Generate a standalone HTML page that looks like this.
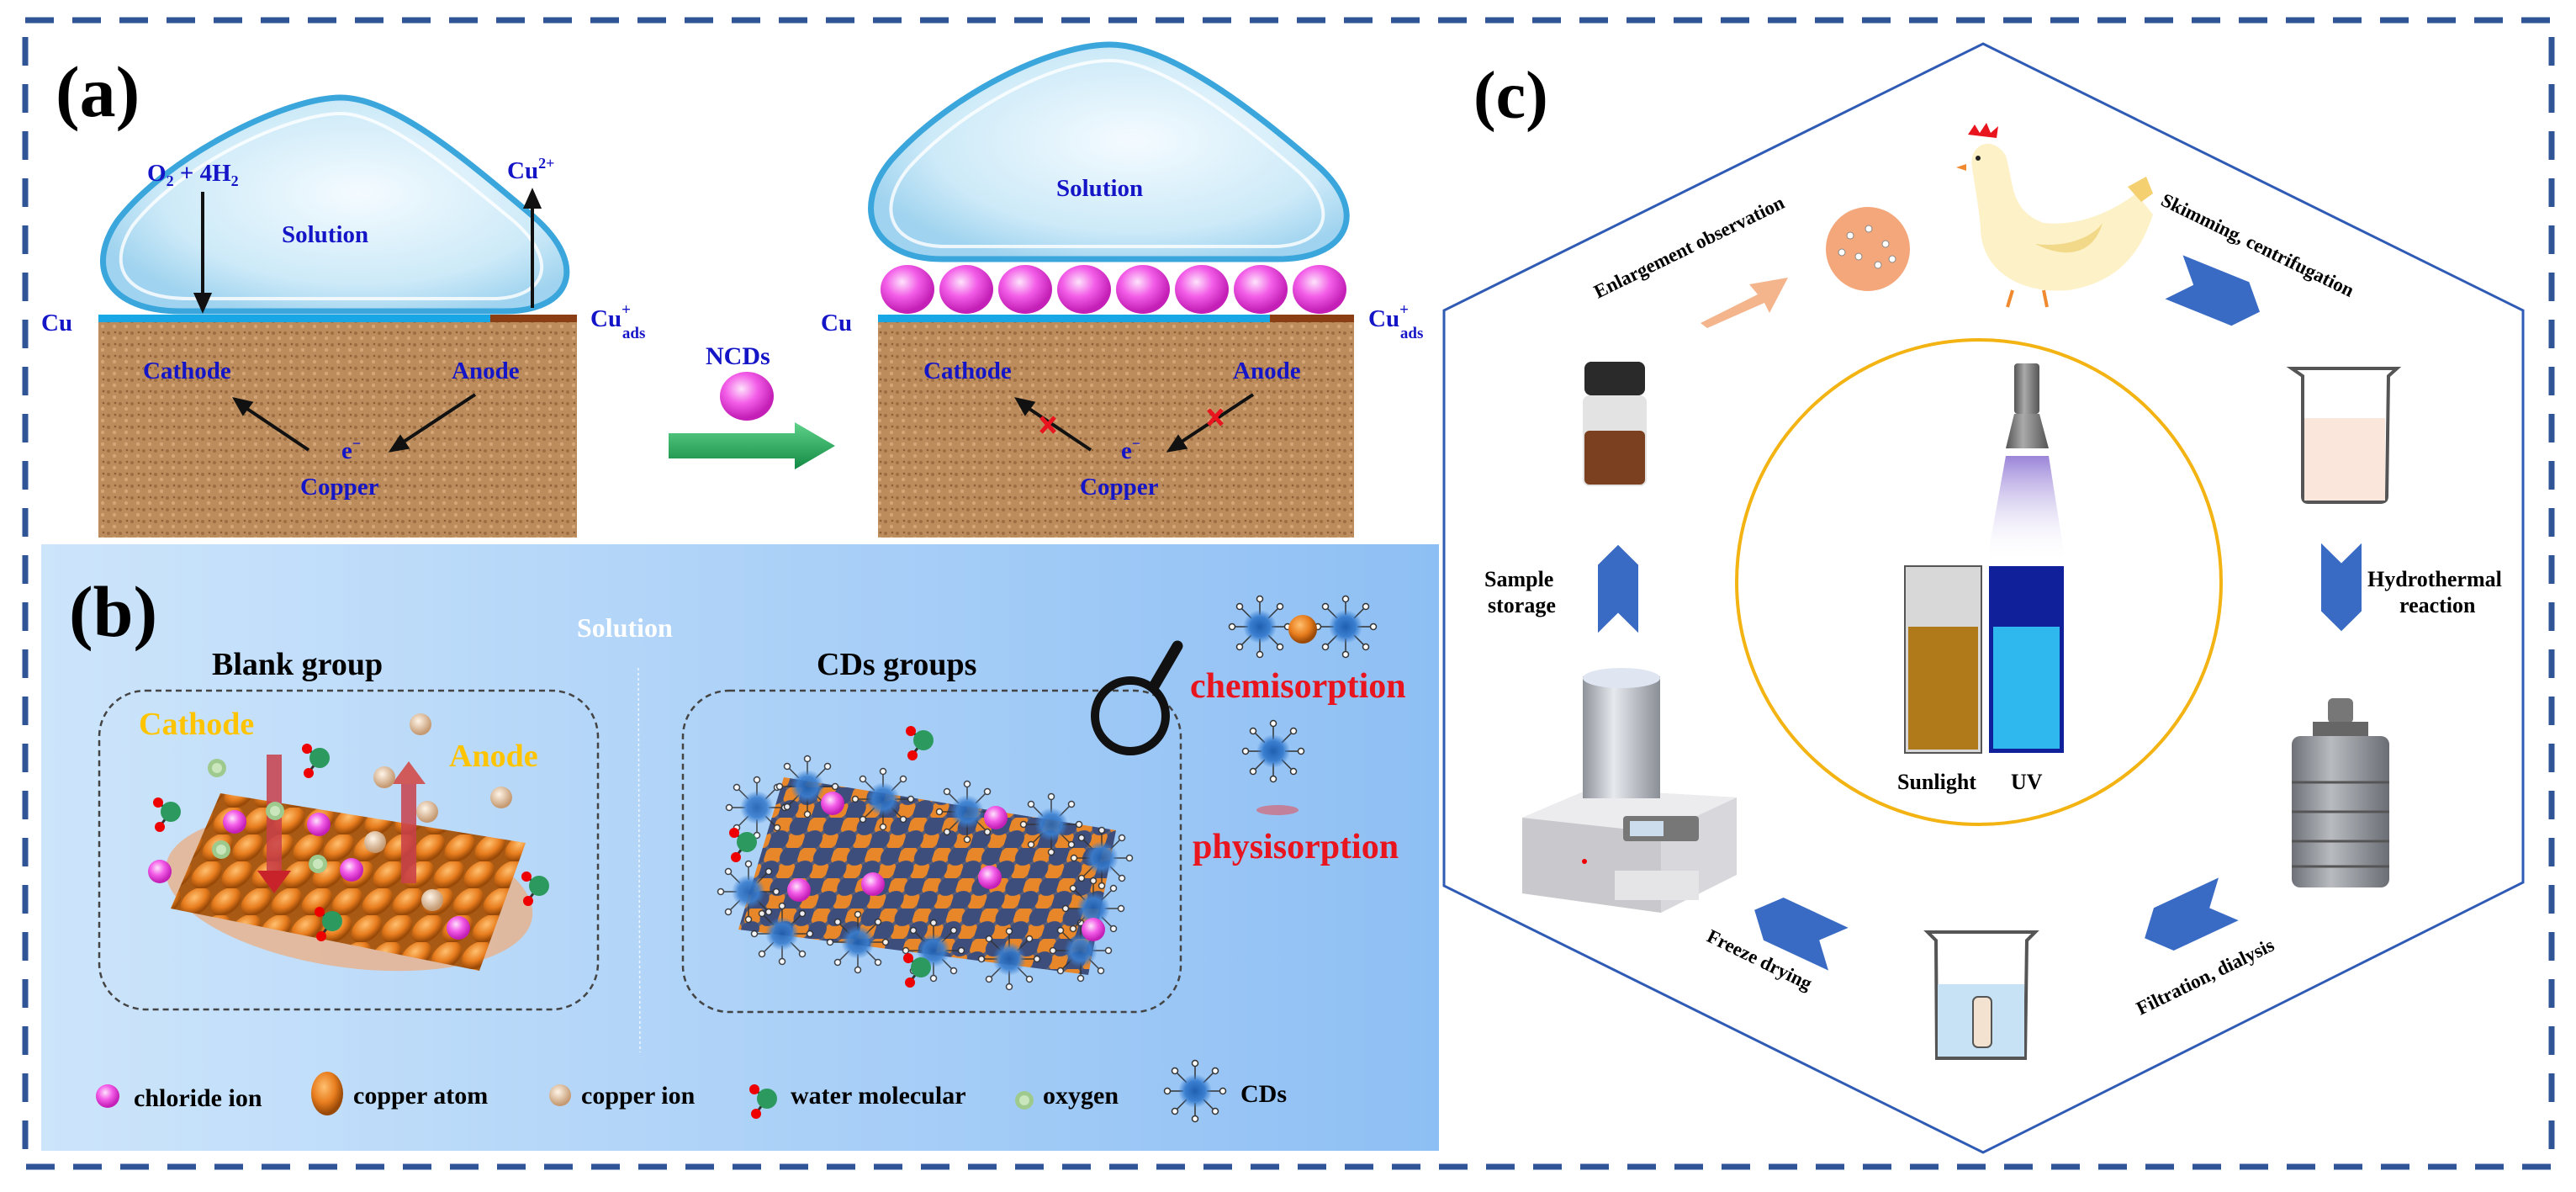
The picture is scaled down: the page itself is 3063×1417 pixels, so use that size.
<!DOCTYPE html>
<html><head><meta charset="utf-8"><style>
html,body{margin:0;padding:0;background:#fff}
svg{display:block}
text{font-family:"Liberation Serif",serif;font-weight:bold}
</style></head><body>
<svg width="3063" height="1417" viewBox="0 0 3063 1417" xmlns="http://www.w3.org/2000/svg">
<defs>
<linearGradient id="bg" x1="0" x2="1" y1="0" y2="0"><stop offset="0" stop-color="#cde5fb"/><stop offset="1" stop-color="#8ebff4"/></linearGradient>
<radialGradient id="drop" cx="0.55" cy="0.45" r="0.6"><stop offset="0" stop-color="#f4fbff"/><stop offset="0.7" stop-color="#cdeaf8"/><stop offset="1" stop-color="#9fd3ef"/></radialGradient>
<radialGradient id="pink" cx="0.4" cy="0.35" r="0.6"><stop offset="0" stop-color="#fde3fb"/><stop offset="0.5" stop-color="#f35ee8"/><stop offset="1" stop-color="#c41fb6"/></radialGradient>
<radialGradient id="cu" cx="0.4" cy="0.35" r="0.6"><stop offset="0" stop-color="#ffc070"/><stop offset="0.6" stop-color="#e87d1e"/><stop offset="1" stop-color="#9a4a08"/></radialGradient>
<radialGradient id="cuion" cx="0.4" cy="0.35" r="0.6"><stop offset="0" stop-color="#fff5e8"/><stop offset="1" stop-color="#c59a72"/></radialGradient>
<radialGradient id="cdb" cx="0.5" cy="0.5" r="0.5"><stop offset="0" stop-color="#1f5fb0"/><stop offset="0.6" stop-color="#3b7fd0"/><stop offset="1" stop-color="#3b7fd0" stop-opacity="0"/></radialGradient>
<pattern id="soil" width="14" height="14" patternUnits="userSpaceOnUse"><rect width="14" height="14" fill="#bc8c5c"/><circle cx="3" cy="4" r="2" fill="#9e6e42"/><circle cx="10" cy="10" r="2.2" fill="#d4a577"/><circle cx="11" cy="3" r="1.3" fill="#8d5f36"/></pattern>
<pattern id="cuPat" width="36" height="32" patternUnits="userSpaceOnUse" patternTransform="skewX(-22)"><rect width="36" height="32" fill="#a85a14"/><circle cx="18" cy="16" r="17" fill="url(#cu)"/></pattern>
<pattern id="cdPat" width="40" height="36" patternUnits="userSpaceOnUse" patternTransform="skewX(-18)"><rect width="40" height="36" fill="#5a5f78"/><circle cx="10" cy="9" r="11" fill="#e8872a"/><circle cx="30" cy="27" r="11" fill="#e8872a"/><circle cx="30" cy="9" r="12" fill="#3d4e7c"/><circle cx="10" cy="27" r="12" fill="#3d4e7c"/></pattern>
<linearGradient id="garrow" x1="0" y1="0" x2="0" y2="1"><stop offset="0" stop-color="#5fd28a"/><stop offset="1" stop-color="#138a44"/></linearGradient>
<linearGradient id="cone" x1="0" y1="0" x2="0" y2="1"><stop offset="0" stop-color="#9a84d8"/><stop offset="1" stop-color="#fff" stop-opacity="0"/></linearGradient>
<linearGradient id="steel" x1="0" x2="1"><stop offset="0" stop-color="#8e9299"/><stop offset="0.4" stop-color="#e6e9ee"/><stop offset="1" stop-color="#8a8e95"/></linearGradient>
<linearGradient id="steel2" x1="0" x2="1"><stop offset="0" stop-color="#6e7278"/><stop offset="0.4" stop-color="#b8bbc0"/><stop offset="1" stop-color="#6a6e74"/></linearGradient>
<linearGradient id="dark" x1="0" x2="1"><stop offset="0" stop-color="#555"/><stop offset="0.4" stop-color="#aaa"/><stop offset="1" stop-color="#555"/></linearGradient>
<g id="cd"><g stroke="#333" stroke-width="1.5" fill="none"><path d="M0-14V-30M10-10L22-22M14 0H30M10 10L22 22M0 14V30M-10 10L-22 22M-14 0H-30M-10-10L-22-22"/></g><g fill="#fff" stroke="#333" stroke-width="1.5"><circle cx="0" cy="-33" r="3.5"/><circle cx="24" cy="-24" r="3.5"/><circle cx="33" cy="0" r="3.5"/><circle cx="24" cy="24" r="3.5"/><circle cx="0" cy="33" r="3.5"/><circle cx="-24" cy="24" r="3.5"/><circle cx="-33" cy="0" r="3.5"/><circle cx="-24" cy="-24" r="3.5"/></g><circle r="20" fill="url(#cdb)"/></g>
<g id="cl"><circle r="14" fill="url(#pink)"/></g>
<g id="ci"><circle r="13" fill="url(#cuion)"/></g>
<g id="ox"><circle r="11" fill="#9fca8e"/><circle r="6" fill="#c9e6bd"/></g>
<g id="wm"><line x1="0" y1="0" x2="-14" y2="-10" stroke="#333" stroke-width="3"/><line x1="0" y1="0" x2="-12" y2="16" stroke="#333" stroke-width="3"/><circle r="12" fill="#2c9a5e"/><circle cx="-15" cy="-11" r="6" fill="#e00"/><circle cx="-13" cy="18" r="6" fill="#e00"/></g>
<g id="chev"><path d="M-55-40 L30-40 L55 0 L30 40 L-55 40 L-30 0Z" fill="#3a6bc4"/></g>
</defs>

<rect x="30" y="24" width="3004" height="1363" fill="none" stroke="#2f5597" stroke-width="7" stroke-dasharray="34 22"/>

<!-- (a) -->
<text x="66" y="138" font-size="86">(a)</text>
<path d="M405 116 C470 116 560 195 635 258 C700 315 680 370 600 370 L215 370 C130 370 100 320 140 262 C200 185 340 116 405 116Z" fill="url(#drop)" stroke="#3aa6dc" stroke-width="7"/>
<path d="M405 135 C460 135 540 205 610 262 C665 310 650 352 590 355 L225 355 C150 355 125 318 158 268 C215 195 345 135 405 135Z" fill="none" stroke="#fff" stroke-width="4" opacity="0.8"/>
<rect x="117" y="381" width="569" height="258" fill="url(#soil)"/>
<rect x="117" y="374" width="466" height="9" fill="#19a6e4"/>
<rect x="583" y="374" width="103" height="9" fill="#8b3e13"/>
<g fill="#1515c8" font-size="29">
<text x="49" y="393">Cu</text>
<text x="702" y="388">Cu<tspan font-size="19" dy="-14">+</tspan><tspan font-size="19" dy="28" dx="-10">ads</tspan></text>
<text x="175" y="215">O<tspan font-size="18" dy="6">2</tspan><tspan dy="-6"> + 4H</tspan><tspan font-size="18" dy="6">2</tspan></text>
<text x="603" y="212">Cu<tspan font-size="18" dy="-12">2+</tspan></text>
<text x="335" y="288">Solution</text>
<text x="170" y="450">Cathode</text>
<text x="537" y="450">Anode</text>
<text x="406" y="545">e<tspan font-size="18" dy="-12">−</tspan></text>
<text x="357" y="588">Copper</text>
</g>
<g stroke="#111" stroke-width="4" fill="#111">
<line x1="241" y1="228" x2="241" y2="352"/><path d="M233 350 L241 368 L249 350Z"/>
<line x1="633" y1="366" x2="633" y2="244"/><path d="M625 246 L633 228 L641 246Z"/>
<line x1="367" y1="535" x2="288" y2="482"/><path d="M280 475 L298 479 L289 491Z"/>
<line x1="565" y1="469" x2="474" y2="529"/><path d="M466 535 L476 520 L484 532Z"/>
</g>
<text x="839" y="433" fill="#1515c8" font-size="30">NCDs</text>
<ellipse cx="888" cy="471" rx="32" ry="29" fill="url(#pink)"/>
<path d="M795 515 L945 515 L945 502 L993 530 L945 558 L945 545 L795 545Z" fill="url(#garrow)"/>
<path d="M1320 53 C1390 53 1490 130 1568 198 C1630 255 1600 308 1520 308 L1120 308 C1040 308 1010 250 1060 190 C1130 112 1250 53 1320 53Z" fill="url(#drop)" stroke="#3aa6dc" stroke-width="7"/>
<path d="M1320 72 C1380 72 1470 140 1545 205 C1595 252 1575 292 1515 293 L1125 293 C1060 293 1040 250 1080 200 C1145 128 1255 72 1320 72Z" fill="none" stroke="#fff" stroke-width="4" opacity="0.8"/>
<rect x="1044" y="381" width="566" height="258" fill="url(#soil)"/>
<rect x="1044" y="374" width="466" height="9" fill="#19a6e4"/>
<rect x="1510" y="374" width="100" height="9" fill="#8b3e13"/>
<g fill="url(#pink)">
<ellipse cx="1079" cy="344" rx="32" ry="29"/><ellipse cx="1149" cy="344" rx="32" ry="29"/><ellipse cx="1219" cy="344" rx="32" ry="29"/><ellipse cx="1289" cy="344" rx="32" ry="29"/><ellipse cx="1359" cy="344" rx="32" ry="29"/><ellipse cx="1429" cy="344" rx="32" ry="29"/><ellipse cx="1499" cy="344" rx="32" ry="29"/><ellipse cx="1569" cy="344" rx="32" ry="29"/>
</g>
<g fill="#1515c8" font-size="29">
<text x="976" y="393">Cu</text>
<text x="1627" y="388">Cu<tspan font-size="19" dy="-14">+</tspan><tspan font-size="19" dy="28" dx="-10">ads</tspan></text>
<text x="1256" y="233">Solution</text>
<text x="1098" y="450">Cathode</text>
<text x="1466" y="450">Anode</text>
<text x="1333" y="545">e<tspan font-size="18" dy="-12">−</tspan></text>
<text x="1284" y="588">Copper</text>
</g>
<g stroke="#111" stroke-width="4" fill="#111">
<line x1="1297" y1="535" x2="1218" y2="482"/><path d="M1210 475 L1228 479 L1219 491Z"/>
<line x1="1490" y1="469" x2="1399" y2="529"/><path d="M1391 535 L1401 520 L1409 532Z"/>
</g>
<g stroke="#e8141e" stroke-width="5"><path d="M1238 496 L1254 514 M1254 496 L1238 514"/><path d="M1437 487 L1453 505 M1453 487 L1437 505"/></g>

<!-- (b) -->
<rect x="49" y="647" width="1662" height="721" fill="url(#bg)"/>
<text x="82" y="756" font-size="86">(b)</text>
<text x="686" y="757" fill="#fff" font-size="32">Solution</text>
<text x="252" y="802" font-size="38">Blank group</text>
<text x="971" y="802" font-size="38">CDs groups</text>
<line x1="759" y1="794" x2="761" y2="1251" stroke="#fff" stroke-width="1.5" stroke-dasharray="3 3" opacity="0.8"/>
<rect x="118" y="821" width="593" height="379" rx="55" fill="none" stroke="#444" stroke-width="2.5" stroke-dasharray="7 5"/>
<rect x="812" y="821" width="592" height="382" rx="55" fill="none" stroke="#444" stroke-width="2.5" stroke-dasharray="7 5"/>
<ellipse cx="415" cy="1060" rx="220" ry="90" fill="#e8b08a" opacity="0.8" transform="rotate(8 415 1060)"/>
<polygon points="203,1080 262,943 625,1002 570,1154" fill="url(#cuPat)"/>
<rect x="317" y="897" width="18" height="140" fill="#c8404a" opacity="0.85"/><path d="M306 1035 L326 1062 L346 1035Z" fill="#c8232a"/>
<rect x="477" y="930" width="18" height="120" fill="#c8404a" opacity="0.85"/><path d="M466 932 L486 905 L506 932Z" fill="#d05a5a"/>
<text x="165" y="873" fill="#ffc400" font-size="38">Cathode</text>
<text x="534" y="911" fill="#ffc400" font-size="38">Anode</text>
<use href="#cl" x="279" y="977"/><use href="#cl" x="379" y="980"/><use href="#cl" x="418" y="1034"/><use href="#cl" x="190" y="1036"/><use href="#cl" x="545" y="1103"/>
<use href="#ox" x="258" y="913"/><use href="#ox" x="327" y="964"/><use href="#ox" x="263" y="1010"/><use href="#ox" x="378" y="1027"/>
<use href="#ci" x="500" y="861"/><use href="#ci" x="457" y="924"/><use href="#ci" x="596" y="948"/><use href="#ci" x="508" y="965"/><use href="#ci" x="446" y="1001"/><use href="#ci" x="514" y="1070"/>
<use href="#wm" x="380" y="901"/><use href="#wm" x="203" y="965"/><use href="#wm" x="641" y="1053"/><use href="#wm" x="395" y="1095"/>
<polygon points="878,1105 932,924 1327,987 1294,1159" fill="url(#cdPat)"/>
<g opacity="0.9"><use href="#cd" x="900" y="960"/><use href="#cd" x="960" y="935"/><use href="#cd" x="1050" y="950"/><use href="#cd" x="1150" y="965"/><use href="#cd" x="1250" y="980"/><use href="#cd" x="1310" y="1020"/><use href="#cd" x="890" y="1060"/><use href="#cd" x="930" y="1110"/><use href="#cd" x="1020" y="1120"/><use href="#cd" x="1110" y="1130"/><use href="#cd" x="1200" y="1140"/><use href="#cd" x="1285" y="1130"/><use href="#cd" x="1300" y="1080"/></g>
<use href="#cl" x="990" y="955"/><use href="#cl" x="1184" y="972"/><use href="#cl" x="1177" y="1043"/><use href="#cl" x="1038" y="1051"/><use href="#cl" x="950" y="1058"/><use href="#cl" x="1300" y="1105"/>
<use href="#wm" x="1098" y="880"/><use href="#wm" x="888" y="1001"/><use href="#wm" x="1095" y="1150"/>
<circle cx="1344" cy="851" r="42" fill="none" stroke="#111" stroke-width="10"/>
<line x1="1372" y1="816" x2="1400" y2="768" stroke="#111" stroke-width="13" stroke-linecap="round"/>
<use href="#cd" x="1498" y="745"/><use href="#cd" x="1600" y="745"/><circle cx="1549" cy="748" r="17" fill="url(#cu)"/>
<text x="1415" y="829" fill="#e8141e" font-size="42">chemisorption</text>
<use href="#cd" x="1514" y="893"/>
<ellipse cx="1519" cy="963" rx="25" ry="6" fill="#f04040" opacity="0.5"/>
<text x="1418" y="1020" fill="#e8141e" font-size="42">physisorption</text>
<use href="#cl" x="128" y="1303"/><text x="159" y="1315" font-size="30">chloride ion</text>
<ellipse cx="389" cy="1300" rx="19" ry="26" fill="url(#cu)"/><text x="420" y="1312" font-size="30">copper atom</text>
<use href="#ci" x="666" y="1302"/><text x="691" y="1312" font-size="30">copper ion</text>
<use href="#wm" x="912" y="1306"/><text x="940" y="1312" font-size="30">water molecular</text>
<use href="#ox" x="1218" y="1308"/><text x="1240" y="1312" font-size="30">oxygen</text>
<use href="#cd" x="1421" y="1297"/><text x="1475" y="1310" font-size="30">CDs</text>

<!-- (c) -->
<polygon points="2358,52 3000,369 3000,1049 2358,1370 1717,1053 1717,369" fill="none" stroke="#2f5bb5" stroke-width="3"/>
<text x="1752" y="140" font-size="80">(c)</text>
<circle cx="2353" cy="692" r="288" fill="none" stroke="#f3b312" stroke-width="4"/>
<rect x="2395" y="432" width="30" height="60" rx="4" fill="url(#dark)"/>
<path d="M2395 492 L2425 492 L2436 533 L2385 533Z" fill="url(#dark)"/>
<path d="M2385 542 L2436 542 L2456 669 L2362 669Z" fill="url(#cone)"/>
<rect x="2265" y="673" width="91" height="222" fill="#d8d8d8" stroke="#555" stroke-width="2"/>
<rect x="2269" y="745" width="83" height="146" fill="#b07a1a"/>
<rect x="2365" y="673" width="89" height="222" fill="#10209a"/>
<rect x="2370" y="745" width="79" height="145" fill="#2eb8ee"/>
<text x="2256" y="938" font-size="26">Sunlight</text>
<text x="2391" y="938" font-size="26">UV</text>
<g>
<path d="M2345 200 C2340 170 2370 160 2385 185 C2395 220 2390 250 2430 265 C2480 270 2520 245 2540 230 L2560 255 C2545 300 2520 335 2460 345 C2400 350 2355 320 2355 270 C2352 240 2348 220 2345 200Z" fill="#fdf1c8"/>
<path d="M2420 290 C2460 295 2490 280 2500 265 C2490 300 2460 310 2420 290Z" fill="#f2d98a"/>
<path d="M2340 160 l8-12 6 10 8-12 5 12 9-8 -2 14Z" fill="#e8141e"/>
<path d="M2338 195 l-12 4 12 4Z" fill="#f08a30"/>
<path d="M2530 222 l22 -12 8 20 -14 10Z" fill="#f4d070"/>
<path d="M2393 345 l-6 20 M2430 345 l4 20" stroke="#f08a30" stroke-width="4"/>
<circle cx="2352" cy="188" r="3" fill="#222"/>
</g>
<circle cx="2221" cy="296" r="50" fill="#f4a77a"/>
<g fill="#fff" stroke="#888" stroke-width="1"><circle cx="2200" cy="280" r="4"/><circle cx="2222" cy="272" r="4"/><circle cx="2242" cy="290" r="4"/><circle cx="2210" cy="305" r="4"/><circle cx="2233" cy="315" r="4"/><circle cx="2190" cy="300" r="4"/><circle cx="2250" cy="308" r="4"/></g>
<path d="M2022 384 L2090 350 L2080 338 L2126 330 L2104 372 L2098 360 L2030 390Z" fill="#f4b48c"/>
<text font-size="23" transform="translate(1900 355) rotate(-26)">Enlargement observation</text>
<text font-size="23" transform="translate(2568 243) rotate(26)">Skimming, centrifugation</text>
<use href="#chev" transform="translate(2636 350) rotate(22) scale(1 0.7)"/>
<path d="M2725 438 L2850 438 L2840 447 L2838 590 Q2838 597 2830 597 L2745 597 Q2738 597 2738 590 L2738 447Z" fill="#fff" stroke="#555" stroke-width="4"/>
<rect x="2740" y="497" width="96" height="98" fill="#fbe6dc"/>
<use href="#chev" transform="translate(2784 698) rotate(90) scale(0.95 0.6)"/>
<text x="2815" y="697" font-size="26">Hydrothermal</text>
<text x="2853" y="728" font-size="26">reaction</text>
<rect x="2768" y="830" width="30" height="30" rx="6" fill="#777"/>
<rect x="2750" y="858" width="66" height="20" fill="#666"/>
<rect x="2725" y="875" width="116" height="180" rx="10" fill="url(#steel2)"/>
<g stroke="#555" stroke-width="3"><line x1="2725" y1="930" x2="2841" y2="930"/><line x1="2725" y1="965" x2="2841" y2="965"/><line x1="2725" y1="1000" x2="2841" y2="1000"/><line x1="2725" y1="1030" x2="2841" y2="1030"/></g>
<use href="#chev" transform="translate(2600 1092) rotate(155) scale(1 0.7)"/>
<text font-size="23" transform="translate(2545 1207) rotate(-26)">Filtration, dialysis</text>
<path d="M2292 1108 L2420 1108 L2410 1118 L2408 1258 L2303 1258 L2302 1118Z" fill="#fff" stroke="#555" stroke-width="4"/>
<rect x="2304" y="1170" width="103" height="86" fill="#c8e2f5"/>
<rect x="2346" y="1185" width="22" height="60" rx="6" fill="#f3e2d0" stroke="#555" stroke-width="2"/>
<use href="#chev" transform="translate(2136 1105) rotate(205) scale(1 0.7)"/>
<text font-size="23" transform="translate(2028 1118) rotate(26)">Freeze drying</text>
<path d="M1810 972 L1890 938 L2065 948 L2065 1040 L1975 1085 L1810 1062Z" fill="#d8d8dc"/>
<path d="M1810 972 L1975 990 L1975 1085 L1810 1062Z" fill="#c9c9cd"/>
<path d="M1810 972 L1890 938 L2065 948 L1975 990Z" fill="#ececef"/>
<rect x="1882" y="804" width="92" height="145" fill="url(#steel)"/>
<ellipse cx="1928" cy="806" rx="46" ry="12" fill="#dfe6f2"/>
<rect x="1930" y="970" width="90" height="30" rx="4" fill="#777"/><rect x="1938" y="976" width="40" height="18" fill="#cde"/>
<rect x="1920" y="1035" width="100" height="35" fill="#e5e5e8"/>
<circle cx="1884" cy="1024" r="3" fill="#e00"/>
<use href="#chev" transform="translate(1924 700) rotate(-90) scale(0.95 0.6)"/>
<text x="1765" y="697" font-size="26">Sample</text>
<text x="1769" y="728" font-size="26">storage</text>
<rect x="1882" y="470" width="76" height="108" rx="8" fill="#e3e3e3"/>
<rect x="1884" y="512" width="72" height="64" rx="6" fill="#7a4020"/>
<rect x="1884" y="430" width="72" height="40" rx="8" fill="#2a2a2a"/>
</svg>
</body></html>
